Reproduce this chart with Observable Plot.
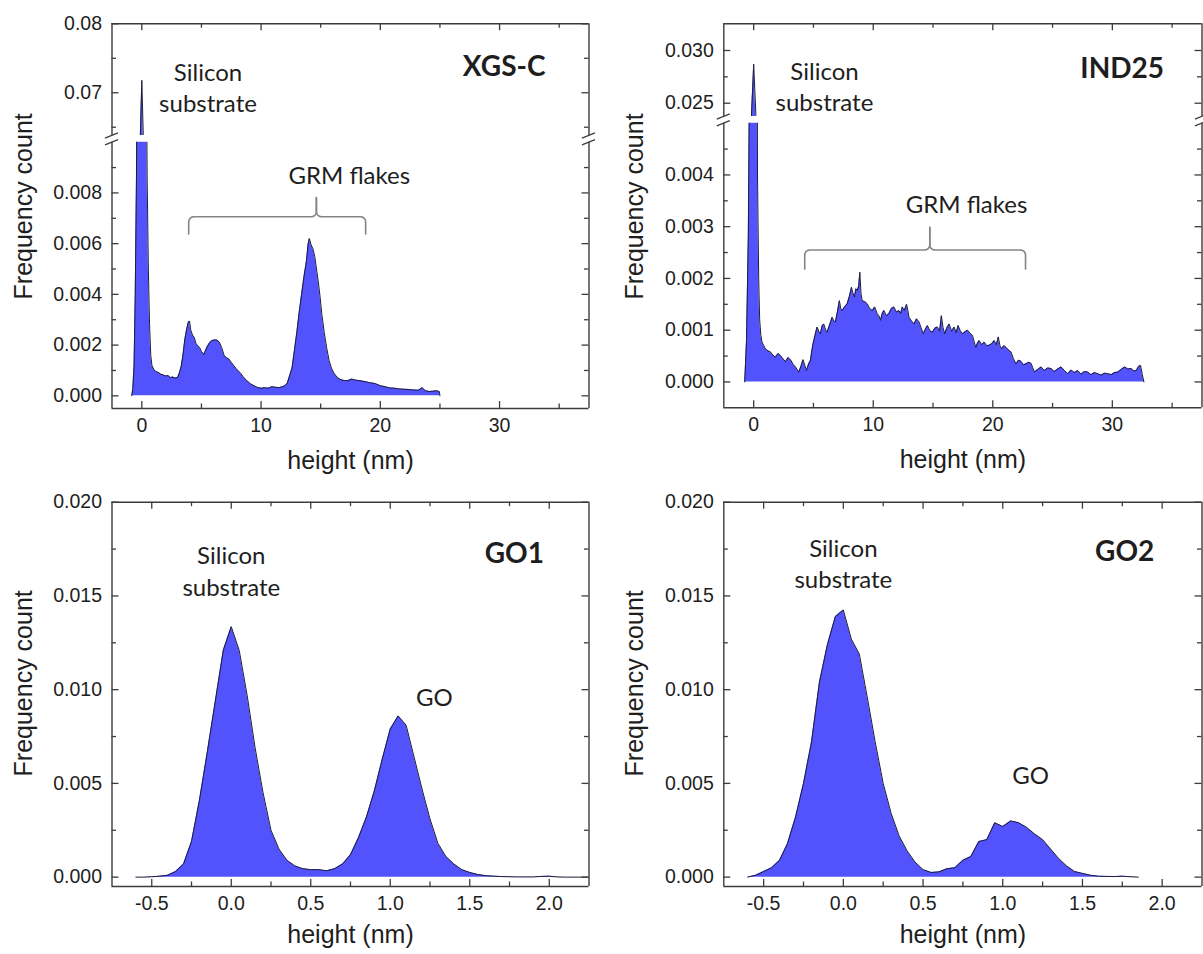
<!DOCTYPE html>
<html><head><meta charset="utf-8">
<script src="https://cdn.jsdelivr.net/npm/d3@7"></script>
<script src="https://cdn.jsdelivr.net/npm/@observablehq/plot@0.6"></script>
<style>
html,body{margin:0;padding:0;background:#fff;}
#root{position:relative;width:1203px;height:954px;overflow:hidden;background:#fff;}
#root svg{position:absolute;}
</style></head><body><div id="root"></div>
<script>
// ---------------- data ----------------
const panelNames = ["XGS-C", "IND25", "GO1", "GO2"];
const xAxisTitle = "height (nm)";
const yAxisTitle = "Frequency count";
const substrateLabel = "Silicon\nsubstrate";
const flakesLabel = "GRM flakes";
const goLabel = "GO";

const xgsHeight = [-0.84,-0.75,-0.65,-0.55,-0.45,-0.35,-0.25,-0.12,0,0.12,0.25,0.35,0.45,0.55,0.65,0.75,0.85,1.0,1.2,1.4,1.6,1.8,2.0,2.2,2.4,2.6,2.8,3.0,3.15,3.3,3.45,3.6,3.75,3.9,4.0,4.1,4.25,4.4,4.55,4.7,4.85,5.0,5.2,5.35,5.5,5.7,5.9,6.1,6.3,6.5,6.7,6.9,7.1,7.3,7.5,7.7,7.9,8.1,8.3,8.5,8.8,9.1,9.4,9.7,10.0,10.3,10.6,10.9,11.2,11.5,11.8,12.0,12.2,12.4,12.6,12.8,13.0,13.2,13.4,13.6,13.8,13.95,14.05,14.2,14.35,14.5,14.65,14.8,14.95,15.1,15.3,15.5,15.7,15.9,16.1,16.4,16.7,17.0,17.3,17.6,17.9,18.2,18.5,18.8,19.1,19.4,19.7,20.0,20.4,20.8,21.2,21.6,22.0,22.4,22.8,23.2,23.5,23.8,24.1,24.4,24.7,24.95,25.0];
const xgsFreq = [0,0.0003,0.0012,0.004,0.0085,0.016,0.03,0.064,0.0718,0.064,0.03,0.015,0.0085,0.005,0.0028,0.0016,0.0012,0.00105,0.00095,0.00092,0.00085,0.00082,0.00078,0.0008,0.00072,0.00074,0.0007,0.00072,0.0009,0.00115,0.0016,0.0022,0.0026,0.0029,0.00295,0.0026,0.0024,0.0023,0.00205,0.00198,0.0019,0.00175,0.00163,0.0018,0.00195,0.0021,0.00218,0.0022,0.0022,0.00212,0.0019,0.0016,0.0015,0.00145,0.00132,0.0012,0.00108,0.00098,0.00088,0.00075,0.0006,0.00048,0.0004,0.00033,0.0003,0.00032,0.0003,0.00036,0.00034,0.00032,0.00036,0.0004,0.0005,0.0008,0.0011,0.0018,0.0025,0.0033,0.004,0.0047,0.0053,0.006,0.0062,0.00595,0.0058,0.0055,0.005,0.0045,0.0039,0.0032,0.0025,0.0019,0.0014,0.0011,0.0009,0.00072,0.00063,0.0006,0.0006,0.00066,0.00062,0.0006,0.00058,0.00055,0.00052,0.0005,0.00046,0.0004,0.00036,0.00031,0.0003,0.00027,0.00026,0.00025,0.00023,0.00022,0.00032,0.0002,0.00017,0.00018,0.0002,0.00017,0];

const indHeight = [-0.75,-0.6,-0.45,-0.35,-0.25,-0.18,0,0.18,0.25,0.32,0.42,0.5,0.6,0.7,0.85,0.98,1.2,1.4,1.6,1.82,2.05,2.24,2.45,2.66,2.87,3.08,3.3,3.5,3.77,3.95,4.13,4.28,4.41,4.6,4.75,4.86,4.97,5.13,5.3,5.45,5.58,5.72,5.86,6.0,6.14,6.35,6.56,6.7,6.84,7.0,7.17,7.28,7.4,7.6,7.82,8.0,8.18,8.3,8.43,8.55,8.66,8.78,8.88,8.98,9.08,9.3,9.5,9.7,9.92,10.12,10.33,10.47,10.61,10.75,10.89,11.1,11.31,11.52,11.73,11.94,12.15,12.29,12.43,12.6,12.79,12.9,12.99,13.2,13.41,13.62,13.83,14.0,14.19,14.36,14.53,14.74,14.95,15.16,15.37,15.55,15.7,15.84,15.98,16.15,16.35,16.56,16.77,16.94,17.1,17.28,17.47,17.68,17.89,18.1,18.3,18.44,18.58,18.72,18.86,19.07,19.28,19.5,19.7,19.91,20.12,20.3,20.46,20.6,20.74,20.92,21.1,21.3,21.52,21.73,21.94,22.15,22.36,22.57,22.78,23.0,23.2,23.34,23.48,23.76,24.04,24.3,24.6,24.87,25.15,25.43,25.71,26.0,26.27,26.55,26.82,27.1,27.38,27.66,27.94,28.22,28.5,28.78,29.06,29.34,29.62,29.9,30.18,30.46,30.74,31.02,31.3,31.58,31.8,32.0,32.2,32.36,32.5,32.64];
const indFreq = [0,0.0008,0.0028,0.006,0.014,0.024,0.0287,0.024,0.012,0.004,0.002,0.0012,0.0009,0.00077,0.0007,0.00064,0.0006,0.00058,0.00052,0.00048,0.00055,0.00051,0.00045,0.00039,0.00047,0.00043,0.00034,0.00029,0.00019,0.0003,0.00043,0.00032,0.00022,0.00035,0.00042,0.0006,0.00074,0.0009,0.00106,0.00098,0.00093,0.00108,0.00112,0.00102,0.00096,0.0011,0.00125,0.00118,0.00116,0.00135,0.00157,0.00142,0.00138,0.00145,0.00151,0.00165,0.00183,0.00172,0.00164,0.0018,0.00177,0.00185,0.00212,0.0017,0.00157,0.00155,0.00151,0.00142,0.00138,0.00145,0.00132,0.00128,0.00119,0.00132,0.00138,0.00128,0.00132,0.00142,0.00145,0.00135,0.00138,0.00132,0.00145,0.00138,0.0015,0.00138,0.00125,0.00118,0.00112,0.00122,0.00116,0.00105,0.00093,0.00102,0.00109,0.00099,0.00096,0.00104,0.00106,0.00098,0.00128,0.00105,0.00093,0.00104,0.00112,0.00098,0.00106,0.00095,0.00109,0.00099,0.00093,0.00097,0.001,0.00094,0.0009,0.00078,0.00067,0.00075,0.0008,0.00072,0.00077,0.0007,0.00071,0.00074,0.0008,0.00072,0.00087,0.0007,0.00064,0.0007,0.00067,0.00062,0.00058,0.00045,0.00035,0.00042,0.0004,0.00033,0.00035,0.00038,0.00036,0.00028,0.00019,0.00024,0.00029,0.00022,0.00027,0.00026,0.0002,0.00025,0.00029,0.00022,0.00016,0.00023,0.00018,0.00022,0.00015,0.0002,0.00019,0.00014,0.00018,0.00016,0.00013,0.00017,0.00016,0.00014,0.00018,0.00019,0.00024,0.00029,0.00025,0.00026,0.00021,0.00022,0.0003,0.00032,0.00015,0];

const go1Height = [-0.6,-0.55,-0.5,-0.45,-0.4,-0.35,-0.3,-0.25,-0.2,-0.15,-0.1,-0.05,0,0.05,0.1,0.15,0.2,0.25,0.3,0.35,0.4,0.45,0.5,0.55,0.6,0.65,0.7,0.75,0.8,0.85,0.9,0.95,1.0,1.05,1.1,1.15,1.2,1.25,1.3,1.35,1.4,1.45,1.5,1.55,1.6,1.65,1.7,1.75,1.8,1.85,1.9,1.95,2.0,2.05,2.1,2.15,2.2,2.25];
const go1Freq = [0,0,0.00002,0.00005,0.0001,0.0003,0.0007,0.0019,0.0041,0.0067,0.0094,0.0121,0.01336,0.0121,0.0097,0.0069,0.0045,0.0025,0.0015,0.0009,0.0006,0.00045,0.0004,0.0004,0.00034,0.00045,0.0007,0.0012,0.0021,0.0032,0.0046,0.0063,0.0079,0.0086,0.0081,0.0064,0.0047,0.0031,0.0018,0.0011,0.0007,0.0004,0.00025,0.00014,0.00008,0.00005,0.00003,0.00002,0.00001,0.00001,0.00001,0.00004,0.00005,0.00001,0,0,0,0];

const go2Height = [-0.6,-0.55,-0.5,-0.45,-0.4,-0.35,-0.3,-0.25,-0.2,-0.15,-0.1,-0.05,0,0.05,0.1,0.15,0.2,0.25,0.3,0.35,0.4,0.45,0.5,0.55,0.6,0.65,0.7,0.75,0.8,0.85,0.9,0.95,1.0,1.05,1.1,1.15,1.2,1.25,1.3,1.35,1.4,1.45,1.5,1.55,1.6,1.65,1.7,1.75,1.8,1.85];
const go2Freq = [0,0.0001,0.0003,0.0005,0.0009,0.0018,0.0032,0.005,0.0072,0.0104,0.0124,0.0139,0.01425,0.0127,0.0119,0.0096,0.0072,0.005,0.0034,0.0022,0.0014,0.0008,0.0004,0.00025,0.00028,0.00045,0.0005,0.0009,0.0011,0.0019,0.002,0.0029,0.0027,0.003,0.0029,0.00265,0.0023,0.002,0.0015,0.001,0.0006,0.0003,0.0002,0.0001,0.00005,0.00004,0.00003,0.00005,0.00002,0];

const xTicksWide = [0, 10, 20, 30];
const xMinorWide = [5, 15, 25, 35];
const xTicksGO = [-0.5, 0, 0.5, 1, 1.5, 2];
const xMinorGO = [-0.25, 0.25, 0.75, 1.25, 1.75];
const yTicksXgsLow = [0, 0.002, 0.004, 0.006, 0.008];
const yMinorXgsLow = [0.001, 0.003, 0.005, 0.007, 0.009];
const yTicksXgsHigh = [0.07, 0.08];
const yMinorXgsHigh = [0.065, 0.075];
const yTicksIndLow = [0, 0.001, 0.002, 0.003, 0.004];
const yMinorIndLow = [0.0005, 0.0015, 0.0025, 0.0035, 0.0045];
const yTicksIndHigh = [0.025, 0.03];
const yMinorIndHigh = [0.0275];
const yTicksGO = [0, 0.005, 0.01, 0.015, 0.02];
const yMinorGO = [0.0025, 0.0075, 0.0125, 0.0175];

// ---------------- style ----------------
const FILL = "#5353fd", STROKE = "#1c1c36", FRAME = "#3c3c3c", INK = "#1e1e1e", BRACE = "#858585";
const TICK_FONT = "'Liberation Sans', Arial, sans-serif";
const NOTE_FONT = "Lato, 'Open Sans', sans-serif";
const MAJ = 7, MIN = 4.5, TICK_SIZE = 19.5;
const root = document.getElementById("root");

function segment(c) {
  const sx = d3.scaleLinear(c.xDomain, [c.mL, c.width - c.mR]);
  const sy = d3.scaleLinear(c.yDomain, [c.height - c.mB, c.mT]);
  const pts = c.xs.map((x, i) => ({x, y: c.ys[i]}));
  const fr = {stroke: FRAME, strokeWidth: 1.4};
  const tk = {stroke: FRAME, strokeWidth: 1.3};
  const marks = [
    Plot.areaY(pts, {x: "x", y1: c.base, y2: "y", fill: FILL, clip: true}),
    Plot.lineY(pts, {x: "x", y: "y", stroke: STROKE, strokeWidth: 1, clip: true}),
    Plot.ruleX(c.xDomain, {x: d => d, ...fr})
  ];
  if (c.top) marks.push(Plot.ruleY([c.yDomain[1]], {y: d => d, ...fr}));
  if (c.bottom) marks.push(Plot.ruleY([c.yDomain[0]], {y: d => d, ...fr}));
  // inward ticks on all framed sides
  const xL = c.mL, xR = c.width - c.mR, yB = c.height - c.mB, yT = c.mT;
  for (const [vals, len] of [[c.yMajor, MAJ], [c.yMinor, MIN]]) {
    marks.push(Plot.ruleY(vals, {y: d => d, x1: sx.invert(xL), x2: sx.invert(xL + len), ...tk}));
    marks.push(Plot.ruleY(vals, {y: d => d, x1: sx.invert(xR), x2: sx.invert(xR - len), ...tk}));
  }
  for (const [vals, len] of [[c.xMajor, MAJ], [c.xMinor, MIN]]) {
    if (c.bottom) marks.push(Plot.ruleX(vals, {x: d => d, y1: sy.invert(yB), y2: sy.invert(yB - len), ...tk}));
    if (c.top) marks.push(Plot.ruleX(vals, {x: d => d, y1: sy.invert(yT), y2: sy.invert(yT + len), ...tk}));
  }
  // tick labels
  marks.push(Plot.text(c.yMajor, {y: d => d, text: c.yFmt, frameAnchor: "left", dx: -10, textAnchor: "end", lineAnchor: "middle", fontSize: TICK_SIZE, fill: INK}));
  if (c.bottom) marks.push(Plot.text(c.xMajor, {x: d => d, text: c.xFmt, frameAnchor: "bottom", dy: 9.5, textAnchor: "middle", lineAnchor: "top", fontSize: TICK_SIZE, fill: INK}));
  // texts
  if (c.title) marks.push(Plot.text([c.title], {text: d => d, frameAnchor: "top-right", dx: c.titleDx, dy: c.titleDy, textAnchor: "end", lineAnchor: "middle", fontFamily: NOTE_FONT, fontWeight: "bold", fontSize: 28, fill: INK}));
  if (c.notes) marks.push(Plot.text(c.notes, {x: "x", y: "y", text: "t", textAnchor: "middle", lineAnchor: "middle", lineHeight: 1.32, fontFamily: NOTE_FONT, fontSize: 24, fill: INK}));
  if (c.xTitle) marks.push(Plot.text([xAxisTitle], {text: d => d, frameAnchor: "bottom", dy: c.xTitleDy, textAnchor: "middle", lineAnchor: "middle", fontSize: 25, fill: INK}));
  if (c.yTitle) marks.push(Plot.text([yAxisTitle], {text: d => d, frameAnchor: "left", rotate: -90, dx: -88.5, dy: c.yTitleDy, textAnchor: "middle", lineAnchor: "middle", fontSize: 25, fill: INK}));
  // curly bracket (built in pixel space, mapped back through the scales)
  if (c.brace) {
    const b = c.brace, r = 5;
    const X0 = sx(b.x0), X1 = sx(b.x1), XM = sx(b.xm), YE = sy(b.yEnd), YL = sy(b.yLevel), YT = sy(b.yTip);
    const arc = (cx, cy, a0, a1) => d3.range(0, 5).map(k => { const a = a0 + (a1 - a0) * k / 4; return [cx + r * Math.cos(a), cy + r * Math.sin(a)]; });
    const P = Math.PI;
    const left = [[X0, YE], ...arc(X0 + r, YL + r, P, 1.5 * P), ...arc(XM - r, YL - r, 0.5 * P, 0), [XM, YT]];
    const right = [[XM, YT], ...arc(XM + r, YL - r, P, 0.5 * P), ...arc(X1 - r, YL + r, 1.5 * P, 2 * P), [X1, YE]];
    const pts2 = [...left.map(p => ({px: p[0], py: p[1], s: "l"})), ...right.map(p => ({px: p[0], py: p[1], s: "r"}))]
      .map(p => ({x: sx.invert(p.px), y: sy.invert(p.py), s: p.s}));
    marks.push(Plot.line(pts2, {x: "x", y: "y", z: "s", stroke: BRACE, strokeWidth: 1.6}));
  }
  // axis break marks
  if (c.breakAt !== undefined) {
    const links = [];
    for (const fx of [xL, xR]) {
      for (const gy of [c.breakAt, c.mT]) {
        links.push({x1: sx.invert(fx - 7), y1: sy.invert(gy + 2.6), x2: sx.invert(fx + 6), y2: sy.invert(gy - 2.6)});
      }
    }
    marks.push(Plot.link(links, {x1: "x1", y1: "y1", x2: "x2", y2: "y2", stroke: FRAME, strokeWidth: 1.3}));
  }
  const svg = Plot.plot({
    width: c.width, height: c.height,
    marginLeft: c.mL, marginRight: c.mR, marginTop: c.mT, marginBottom: c.mB,
    x: {type: "linear", domain: c.xDomain, axis: null},
    y: {type: "linear", domain: c.yDomain, axis: null},
    style: {fontFamily: TICK_FONT, fontSize: "19px", color: INK, background: "transparent", overflow: "visible"},
    marks
  });
  svg.style.left = c.left + "px";
  svg.style.top = c.top0 + "px";
  root.appendChild(svg);
}

const f2 = d => d.toFixed(2), f3 = d => d.toFixed(3), f0 = d => d.toFixed(0), f1 = d => d.toFixed(1);
const leftCol = {left: 0, width: 600, mL: 111.5, mR: 11.5};
const rightCol = {left: 600, width: 603, mL: 123.3, mR: 1.5};
const wide = {xDomain: [-2.5, 37.5], xMajor: xTicksWide, xMinor: xMinorWide, xFmt: f0};
const narrow = {xDomain: [-0.75, 2.25], xMajor: xTicksGO, xMinor: xMinorGO, xFmt: f1};

// XGS-C upper / lower
segment({...leftCol, ...wide, top0: 0, height: 135, mT: 23.3, mB: 0, yDomain: [0.0638, 0.08], base: 0.0638,
  xs: xgsHeight, ys: xgsFreq, top: true, bottom: false, yMajor: yTicksXgsHigh, yMinor: yMinorXgsHigh, yFmt: f2,
  title: panelNames[0], titleDx: -43.5, titleDy: 43,
  notes: [{x: 5.55, y: 0.07094, t: substrateLabel}]});
segment({...leftCol, ...wide, top0: 135, height: 345, mT: 6.7, mB: 72, yDomain: [-0.0005, 0.01], base: 0,
  xs: xgsHeight, ys: xgsFreq, top: false, bottom: true, yMajor: yTicksXgsLow, yMinor: yMinorXgsLow, yFmt: f3,
  notes: [{x: 17.4, y: 0.00875, t: flakesLabel}],
  brace: {x0: 3.93, x1: 18.77, xm: 14.64, yEnd: 0.00638, yLevel: 0.00706, yTip: 0.00782},
  xTitle: true, xTitleDy: 52, yTitle: true, yTitleDy: -69, breakAt: 0});

// IND25 upper / lower
segment({...rightCol, ...wide, top0: 0, height: 116, mT: 23.3, mB: 0, yDomain: [0.02374, 0.03253], base: 0.02374,
  xs: indHeight, ys: indFreq, top: true, bottom: false, yMajor: yTicksIndHigh, yMinor: yMinorIndHigh, yFmt: f3,
  title: panelNames[1], titleDx: -38, titleDy: 45,
  notes: [{x: 5.92, y: 0.02668, t: substrateLabel}]});
segment({...rightCol, ...wide, top0: 116, height: 364, mT: 6.7, mB: 72.7, yDomain: [-0.0005, 0.005], base: 0,
  xs: indHeight, ys: indFreq, top: false, bottom: true, yMajor: yTicksIndLow, yMinor: yMinorIndLow, yFmt: f3,
  notes: [{x: 17.8, y: 0.00347, t: flakesLabel}],
  brace: {x0: 4.27, x1: 22.74, xm: 14.73, yEnd: 0.00218, yLevel: 0.00255, yTip: 0.00299},
  xTitle: true, xTitleDy: 52, yTitle: true, yTitleDy: -59, breakAt: 0});

// GO1, GO2
segment({...leftCol, ...narrow, top0: 470, height: 484, mT: 31.7, mB: 68, yDomain: [-0.0005, 0.02], base: 0,
  xs: go1Height, ys: go1Freq, top: true, bottom: true, yMajor: yTicksGO, yMinor: yMinorGO, yFmt: f3,
  title: panelNames[2], titleDx: -45, titleDy: 51.6,
  notes: [{x: 0, y: 0.01639, t: substrateLabel}, {x: 1.278, y: 0.00967, t: goLabel}],
  xTitle: true, xTitleDy: 48, yTitle: true, yTitleDy: -11});
segment({...rightCol, ...narrow, top0: 470, height: 484, mT: 31.7, mB: 68, yDomain: [-0.0005, 0.02], base: 0,
  xs: go2Height, ys: go2Freq, top: true, bottom: true, yMajor: yTicksGO, yMinor: yMinorGO, yFmt: f3,
  title: panelNames[3], titleDx: -47.7, titleDy: 50,
  notes: [{x: 0, y: 0.01679, t: substrateLabel}, {x: 1.175, y: 0.0055, t: goLabel}],
  xTitle: true, xTitleDy: 48, yTitle: true, yTitleDy: -11});
</script></body></html>
